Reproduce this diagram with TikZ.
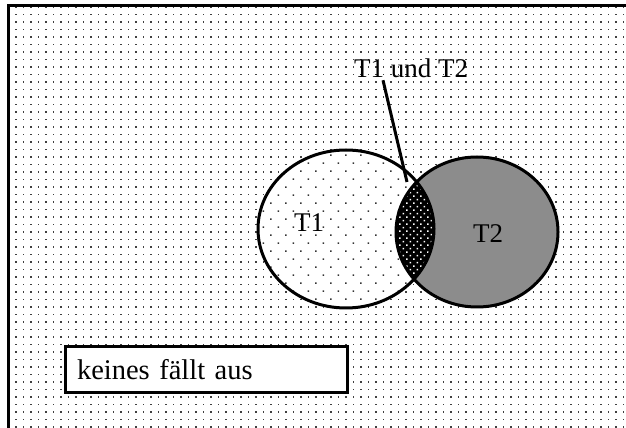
\documentclass[tikz,border=0pt]{standalone}
\usepackage{fontspec}
\setmainfont{Liberation Serif}
\usetikzlibrary{patterns,positioning}

% dot fills
\pgfdeclarepatternformonly{bgdots}{\pgfqpoint{-1pt}{-1pt}}{\pgfqpoint{8pt}{8pt}}{\pgfqpoint{7.5pt}{7.5pt}}{%
	\pgfpathrectangle{\pgfqpoint{0pt}{0pt}}{\pgfqpoint{1.7pt}{1.7pt}}\pgfusepath{fill}}
\pgfdeclarepatternformonly{sparsedots}{\pgfqpoint{-1pt}{-1pt}}{\pgfqpoint{16pt}{17pt}}{\pgfqpoint{15pt}{16pt}}{%
	\pgfpathrectangle{\pgfqpoint{0pt}{0pt}}{\pgfqpoint{1.6pt}{1.6pt}}%
	\pgfpathrectangle{\pgfqpoint{7.5pt}{8pt}}{\pgfqpoint{1.6pt}{1.6pt}}\pgfusepath{fill}}
\pgfdeclarepatternformonly{lensdots}{\pgfqpoint{-1pt}{-1pt}}{\pgfqpoint{8pt}{8pt}}{\pgfqpoint{7pt}{7pt}}{%
	\pgfpathrectangle{\pgfqpoint{0pt}{0pt}}{\pgfqpoint{1.6pt}{1.6pt}}%
	\pgfpathrectangle{\pgfqpoint{3.5pt}{3.5pt}}{\pgfqpoint{1.6pt}{1.6pt}}\pgfusepath{fill}}

\newcommand\Tonepath{(346,199) ellipse [x radius=88, y radius=79]}
\newcommand\Ttwopath{(477,196) ellipse [x radius=81, y radius=75]}

\begin{document}
\begin{tikzpicture}[
		x=1pt, y=1pt,
		frame/.style={
			line width=3pt
		},
		setshape/.style={
			line width=3pt
		},
		setlabel/.style={
			inner sep=0pt,
			font=\fontsize{27}{29}\selectfont
		},
		arrow/.style={
			line width=3pt
		},
		statebox/.style={
			rectangle,
			draw,
			line width=3pt,
			fill=white,
			align=left,
			text width=258pt,
			minimum height=46pt,
			inner xsep=12pt,
			font=\fontsize{28.5}{31}\selectfont
		}
		]
		
		\useasboundingbox (0,0) rectangle (626,428);
		\fill[white] (0,0) rectangle (626,428);
		\fill[pattern=bgdots, pattern color=black!75] (8,0) rectangle (626,422);
		\draw[frame] (8,0) -- (8,422) -- (626,422);
		
		% T1
		\fill[white] \Tonepath;
		\fill[pattern=sparsedots, pattern color=black!80] \Tonepath;
		% T2
		\fill[black!45] \Ttwopath;
		% T1 und T2
		\begin{scope}
			\clip \Tonepath;
			\fill[black] \Ttwopath;
			\fill[pattern=lensdots, pattern color=white] \Ttwopath;
		\end{scope}
		\draw[setshape] \Tonepath;
		\draw[setshape] \Ttwopath;
		
		\node[setlabel] (t1) at (309,205) {T1};
		\node[setlabel] (t2) at (488,194) {T2};
		\node[setlabel] (both) at (411,360) {T1 und T2};
		\coordinate (cut) at (407,246);
		
		\draw[arrow] ([xshift=-28pt,yshift=-3pt]both.base) -- (cut);
		
		\node[statebox] (none) at (206,58) {keines fällt aus};
		
	\end{tikzpicture}
\end{document}
